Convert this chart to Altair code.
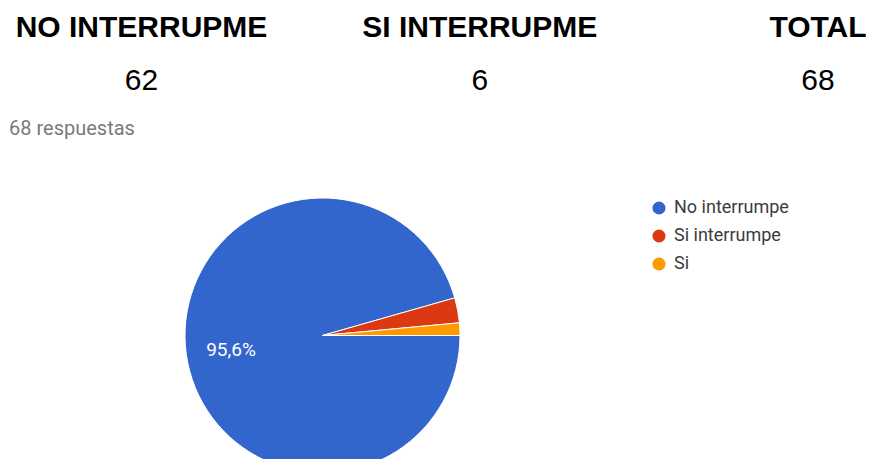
import math
import altair as alt
import pandas as pd

# ---- data ----
header_labels = ["NO INTERRUPME", "SI INTERRUPME", "TOTAL"]
header_values = ["62", "6", "68"]

categories = ["No interrumpe", "Si interrumpe", "Si"]
counts = [65, 2, 1]
colors = ["#3366cc", "#dc3912", "#ff9900"]
total_responses = 68

total = sum(counts)
pie_df = pd.DataFrame({
    "cat": categories,
    "n": counts,
    "order": list(range(len(categories))),
    "pct": [f"{c / total * 100:.1f}".replace(".", ",") + "%" for c in counts],
})
head_df = pd.DataFrame({"label": header_labels, "value": header_values})

W, H = 858, 451
CX, CY, R = 314.5, 327.5, 137.5

xcol = alt.X("label:N", scale=alt.Scale(type="point", domain=header_labels, range=[133.5, 810], padding=0), axis=None)

head_title = alt.Chart(head_df).mark_text(
    font="Liberation Sans", fontSize=30, fontWeight="bold", color="#000000",
    baseline="alphabetic", align="center"
).encode(x=xcol, y=alt.value(29), text="label:N")

head_num = alt.Chart(head_df).mark_text(
    font="Liberation Sans", fontSize=30, color="#000000",
    baseline="alphabetic", align="center"
).encode(x=xcol, y=alt.value(82), text="value:N")

resp = alt.Chart(pd.DataFrame({"t": [f"{total_responses} respuestas"]})).mark_text(
    font="Roboto", fontSize=20, color="#7a7a7a", baseline="alphabetic", align="left"
).encode(x=alt.value(1), y=alt.value(127), text="t:N")

pie = alt.Chart(pie_df).mark_arc(
    outerRadius=R, stroke="#ffffff", strokeWidth=1
).encode(
    theta=alt.Theta("n:Q", stack=True, scale=alt.Scale(range=[math.pi / 2, math.pi / 2 + 2 * math.pi])),
    order=alt.Order("order:Q"),
    color=alt.Color(
        "cat:N",
        scale=alt.Scale(domain=categories, range=colors),
        legend=alt.Legend(
            title=None, orient="none", legendX=642, legendY=191,
            symbolType="circle", symbolSize=170, symbolStrokeWidth=0,
            labelFont="Roboto", labelFontSize=18, labelColor="#3c3c3c",
            labelOffset=6, rowPadding=10, padding=0,
        ),
    ),
    x=alt.value(CX), y=alt.value(CY),
)

label = alt.Chart(pie_df).transform_filter(alt.datum.order == 0).mark_text(
    font="Roboto", fontSize=19, color="#ffffff", baseline="middle", align="center"
).encode(x=alt.value(223), y=alt.value(342), text="pct:N")

chart = alt.layer(head_title, head_num, resp, pie, label).properties(
    width=W, height=H, autosize=alt.AutoSizeParams(type="none"), padding=0,
    background="#ffffff",
).configure_view(stroke=None)

chart.save("out.html", embed_options={"renderer": "svg", "actions": False})
